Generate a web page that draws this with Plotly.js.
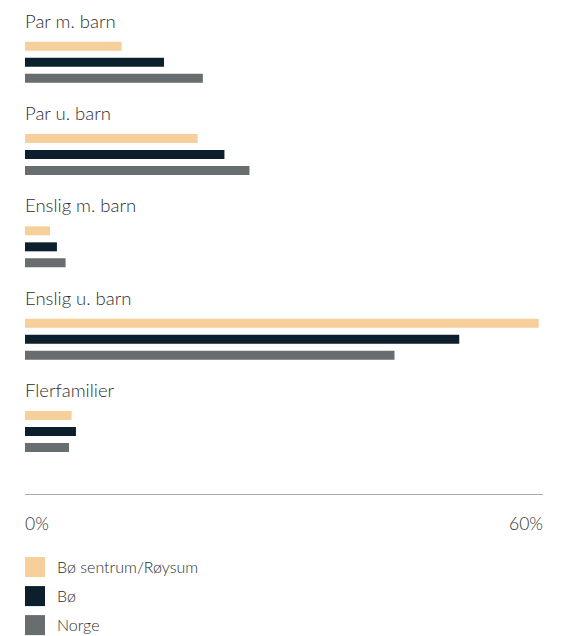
<!DOCTYPE html>
<html>
<head>
<meta charset="utf-8">
<script src="https://cdn.plot.ly/plotly-3.0.1.min.js"></script>
<style>html,body{margin:0;padding:0;background:#fff;}#chart{width:570px;height:636px;}</style>
</head>
<body>
<div id="chart"></div>
<script>
// ---- data ----
const categories = ['Par m. barn', 'Par u. barn', 'Enslig m. barn', 'Enslig u. barn', 'Flerfamilier'];
const seriesNames = ['Bø sentrum/Røysum', 'Bø', 'Norge'];
const boSentrum = [11.2, 20.0, 2.9, 59.5, 5.4];
const bo = [16.1, 23.1, 3.7, 50.3, 5.9];
const norge = [20.6, 26.0, 4.7, 42.8, 5.1];
const tickValues = [0, 60];
const tickLabels = ['0%', '60%'];

// ---- styling ----
const colors = ['#f6cf9a', '#0c1f2c', '#686d70'];
const FONT = 'Lato, "Open Sans", "DejaVu Sans", sans-serif';
const TEXT = '#2e2e2e';
const W = 570, H = 636;
const mL = 25, mR = 27, mT = 16.4, mB = 142;
const plotH = H - mT - mB;
const toPaperY = p => (H - mB - p) / plotH;
const toPaperX = p => (p - mL) / (W - mL - mR);

const values = [boSentrum, bo, norge];
const traces = values.map((v, i) => ({
  type: 'bar',
  orientation: 'h',
  name: seriesNames[i],
  y: categories,
  x: v,
  marker: {color: colors[i]},
  hoverinfo: 'x+name'
}));

const annotations = [];
categories.forEach(c => annotations.push({
  text: c, x: 0, xref: 'x', xanchor: 'left', xshift: -2,
  y: c, yref: 'y', yanchor: 'middle', yshift: 41.5,
  showarrow: false, font: {family: FONT, size: 18.5, color: TEXT, weight: 300}
}));
tickValues.forEach((t, i) => annotations.push({
  text: tickLabels[i], x: t, xref: 'x', xanchor: i === 0 ? 'left' : 'right',
  xshift: i === 0 ? -2 : 2,
  y: toPaperY(523), yref: 'paper', yanchor: 'middle',
  showarrow: false, font: {family: FONT, size: 17.5, color: TEXT, weight: 300}
}));

const shapes = [];
seriesNames.forEach((n, i) => {
  const cy = 567 + i * 29;
  shapes.push({
    type: 'rect', xref: 'paper', yref: 'paper',
    x0: toPaperX(25), x1: toPaperX(45),
    y0: toPaperY(cy - 10), y1: toPaperY(cy + 10),
    fillcolor: colors[i], line: {width: 0}
  });
  annotations.push({
    text: n, xref: 'paper', x: toPaperX(55), xanchor: 'left',
    yref: 'paper', y: toPaperY(cy - 1), yanchor: 'middle',
    showarrow: false, font: {family: FONT, size: 16, color: TEXT, weight: 300}
  });
});

const layout = {
  width: W, height: H,
  margin: {l: mL, r: mR, t: mT, b: mB, pad: 0},
  paper_bgcolor: '#ffffff', plot_bgcolor: '#ffffff',
  barmode: 'group', bargap: 0.48, bargroupgap: 0.44,
  showlegend: false,
  xaxis: {
    range: [0, 60], showgrid: false, zeroline: false,
    showline: true, linecolor: '#aaaaaa', linewidth: 1,
    showticklabels: false, ticks: '', fixedrange: true
  },
  yaxis: {
    type: 'category', range: [4.677, -0.5],
    showgrid: false, zeroline: false, showline: false,
    showticklabels: false, ticks: '', fixedrange: true
  },
  annotations: annotations,
  shapes: shapes,
  font: {family: FONT, color: TEXT}
};

Plotly.newPlot('chart', traces, layout, {displayModeBar: false, staticPlot: true});
</script>
</body>
</html>
